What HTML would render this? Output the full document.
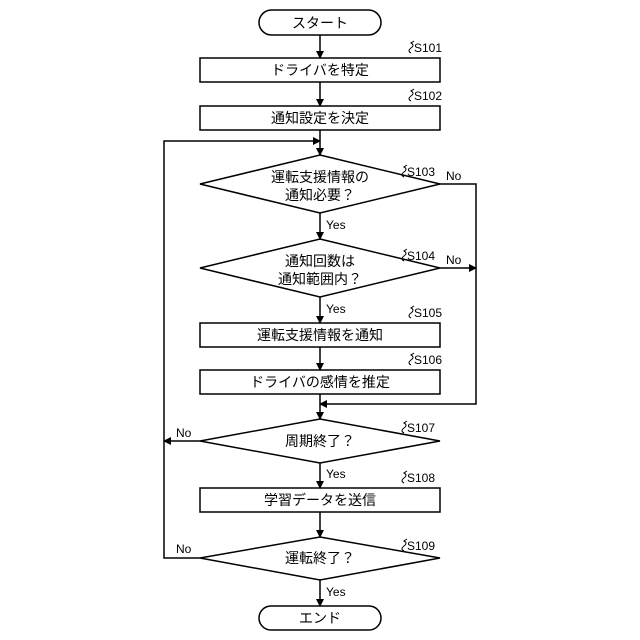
<!DOCTYPE html><html><head><meta charset="utf-8"><style>body{margin:0;background:#fff}svg{display:block}text{font-family:"Liberation Sans","Noto Sans CJK JP",sans-serif;fill:#000}</style></head><body>
<svg width="640" height="640" viewBox="0 0 640 640" xmlns="http://www.w3.org/2000/svg">
<defs><marker id="a" markerWidth="8" markerHeight="8" refX="7" refY="4" orient="auto" markerUnits="userSpaceOnUse"><path d="M0,0 L8,4 L0,8 z" fill="#000"/></marker></defs>
<g stroke="#000" stroke-width="1.5" fill="none">
<rect x="259" y="10" width="122" height="25" rx="12.5"/>
<rect x="200" y="58" width="240" height="24"/>
<rect x="200" y="106" width="240" height="24"/>
<polygon points="320,155 440,184 320,213 200,184"/>
<polygon points="320,239 440,268 320,297 200,268"/>
<rect x="200" y="323" width="240" height="24"/>
<rect x="200" y="370" width="240" height="24"/>
<polygon points="320,419 440,441 320,463 200,441"/>
<rect x="200" y="488" width="240" height="24"/>
<polygon points="320,537 440,558 320,580 200,558"/>
<rect x="259" y="606" width="122" height="24" rx="12"/>
<g marker-end="url(#a)">
<line x1="320" y1="35" x2="320" y2="58"/>
<line x1="320" y1="82" x2="320" y2="106"/>
<line x1="320" y1="130" x2="320" y2="155"/>
<line x1="320" y1="213" x2="320" y2="239"/>
<line x1="320" y1="297" x2="320" y2="323"/>
<line x1="320" y1="347" x2="320" y2="370"/>
<line x1="320" y1="394" x2="320" y2="419"/>
<line x1="320" y1="463" x2="320" y2="488"/>
<line x1="320" y1="512" x2="320" y2="537"/>
<line x1="320" y1="580" x2="320" y2="606"/>
<line x1="440" y1="268" x2="476" y2="268"/>
<polyline points="440,184 476,184 476,404 320,404"/>
<line x1="200" y1="441" x2="164" y2="441"/>
<polyline points="200,558 164,558 164,141 320,141"/>
</g>
<g stroke-width="1"><path d="M411,53 q-4,-2 0,-5 q4,-3 0,-5 l3,-2"/><path d="M411,101 q-4,-2 0,-5 q4,-3 0,-5 l3,-2"/><path d="M404,177 q-4,-2 0,-5 q4,-3 0,-5 l3,-2"/><path d="M404,261 q-4,-2 0,-5 q4,-3 0,-5 l3,-2"/><path d="M411,318 q-4,-2 0,-5 q4,-3 0,-5 l3,-2"/><path d="M411,365 q-4,-2 0,-5 q4,-3 0,-5 l3,-2"/><path d="M404,433 q-4,-2 0,-5 q4,-3 0,-5 l3,-2"/><path d="M404,483 q-4,-2 0,-5 q4,-3 0,-5 l3,-2"/><path d="M404,551 q-4,-2 0,-5 q4,-3 0,-5 l3,-2"/></g>
</g>
<g font-size="14" text-anchor="middle">
<text x="320" y="28">スタート</text>
<text x="320" y="75">ドライバを特定</text>
<text x="320" y="123">通知設定を決定</text>
<text x="320" y="182">運転支援情報の</text>
<text x="320" y="200">通知必要？</text>
<text x="320" y="266">通知回数は</text>
<text x="320" y="284">通知範囲内？</text>
<text x="320" y="340">運転支援情報を通知</text>
<text x="320" y="387">ドライバの感情を推定</text>
<text x="320" y="446">周期終了？</text>
<text x="320" y="505">学習データを送信</text>
<text x="320" y="563">運転終了？</text>
<text x="320" y="623">エンド</text>
</g>
<g font-size="12">
<text x="414" y="52">S101</text><text x="414" y="100">S102</text><text x="407" y="176">S103</text><text x="407" y="260">S104</text><text x="414" y="317">S105</text><text x="414" y="364">S106</text><text x="407" y="432">S107</text><text x="407" y="482">S108</text><text x="407" y="550">S109</text>
<text x="446" y="180">No</text><text x="446" y="264">No</text><text x="176" y="437">No</text><text x="176" y="553">No</text>
<text x="326" y="229">Yes</text><text x="326" y="313">Yes</text><text x="326" y="478">Yes</text><text x="326" y="596">Yes</text>
</g>
</svg></body></html>
